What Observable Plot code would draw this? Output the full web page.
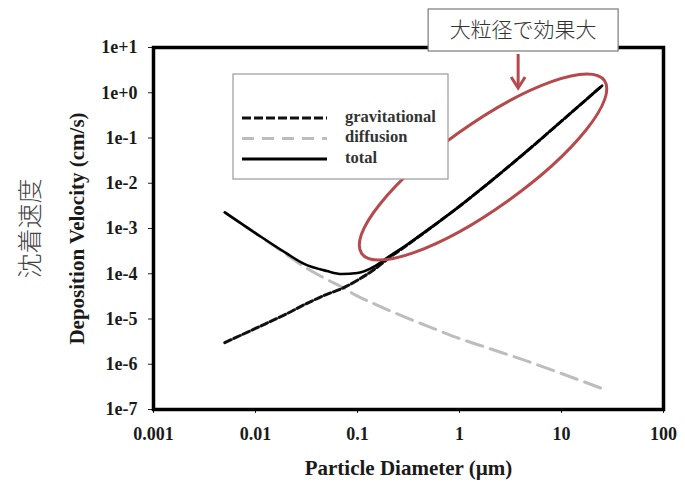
<!DOCTYPE html>
<html>
<head>
<meta charset="utf-8">
<script src="https://cdn.jsdelivr.net/npm/d3@7"></script>
<script src="https://cdn.jsdelivr.net/npm/@observablehq/plot@0.6"></script>
<style>
  html, body { margin: 0; padding: 0; background: #fff; }
  #chart { position: relative; width: 685px; height: 488px; }
</style>
</head>
<body>
<div id="chart"></div>
<script>
// Particle diameter (µm)
const diameters = [0.005, 0.01, 0.02, 0.03, 0.05, 0.07, 0.1, 0.15, 0.2, 0.3, 0.5, 1, 2, 5, 10, 25];
// Deposition velocity (cm/s)
const gravitational = [3.0e-6, 6.2e-6, 1.29e-5, 2.07e-5, 3.5e-5, 4.7e-5, 7.2e-5, 1.3e-4, 2.17e-4, 4.15e-4, 9.6e-4, 3.1e-3, 1.08e-2, 6.07e-2, 0.236, 1.43];
const diffusion     = [2.26e-3, 7.8e-4, 2.7e-4, 1.44e-4, 7.5e-5, 5.1e-5, 3.2e-5, 2.1e-5, 1.58e-5, 1.07e-5, 6.8e-6, 3.7e-6, 2.2e-6, 1.1e-6, 6.25e-7, 2.9e-7];
const total         = [2.27e-3, 7.9e-4, 2.85e-4, 1.65e-4, 1.15e-4, 9.9e-5, 1.04e-4, 1.5e-4, 2.33e-4, 4.26e-4, 9.7e-4, 3.11e-3, 1.08e-2, 6.07e-2, 0.236, 1.43];

const seriesNames = ["gravitational", "diffusion", "total"];
const xTicks = [0.001, 0.01, 0.1, 1, 10, 100];
const yTicks = [1e-7, 1e-6, 1e-5, 1e-4, 1e-3, 1e-2, 1e-1, 1e0, 1e1];
const xTickLabels = ["0.001", "0.01", "0.1", "1", "10", "100"];
const yTickLabels = ["1e-7", "1e-6", "1e-5", "1e-4", "1e-3", "1e-2", "1e-1", "1e+0", "1e+1"];

const xLabel = "Particle Diameter (\u00b5m)";
const yLabel = "Deposition Velocity (cm/s)";
const yLabelJa = "沈着速度";
const annotationText = "大粒径で効果大";
// annotation anchors in data space
const ellipseCenter = {d: 1.72, v: 0.0223};
const arrowTip = {d: 3.8, v: 1.24};

const styles = {
  gravitational: {stroke: "#111", dash: "7,3", legendDash: "9,3", width: 3},
  diffusion: {stroke: "#bdbdbd", dash: "17,8", legendDash: "12,8", width: 3},
  total: {stroke: "#000", dash: null, legendDash: null, width: 2.6}
};

const rows = (vals) => diameters.map((d, i) => ({d, v: vals[i]}));
const data = {gravitational: rows(gravitational), diffusion: rows(diffusion), total: rows(total)};

const serif = "'Liberation Serif', 'Times New Roman', serif";
const W = 685, H = 488;

const plot = Plot.plot({
  width: W, height: H,
  marginLeft: 153, marginRight: 22, marginTop: 47, marginBottom: 79,
  style: {fontFamily: serif, background: "#fff", color: "#1a1a1a"},
  x: {type: "log", domain: [0.001, 100]},
  y: {type: "log", domain: [1e-7, 10]},
  marks: [
    Plot.axisX(xTicks, {tickSize: 4, tickPadding: 14, tickFormat: (d) => xTickLabels[xTicks.indexOf(d)], fontSize: 18, fontWeight: "bold", label: null, stroke: "#222"}),
    Plot.axisY(yTicks, {tickSize: 5, tickPadding: 11, tickFormat: (d) => yTickLabels[yTicks.indexOf(d)], fontSize: 18, fontWeight: "bold", label: null, stroke: "#222"}),
    ...["diffusion", "gravitational", "total"].map(k =>
      Plot.line(data[k], {x: "d", y: "v", stroke: styles[k].stroke, strokeWidth: styles[k].width,
        strokeDasharray: styles[k].dash, curve: "monotone-x"})),
    Plot.frame({stroke: "#000", strokeWidth: 3.5}),
    Plot.text([xLabel], {frameAnchor: "bottom", dy: 65, fontSize: 21, fontWeight: "bold", fill: "#1a1a1a"}),
    Plot.text([yLabel], {frameAnchor: "left", textAnchor: "middle", dx: -76, rotate: -90, fontSize: 21, fontWeight: "bold", fill: "#1a1a1a"}),
    Plot.text([yLabelJa], {frameAnchor: "left", textAnchor: "middle", dx: -123, rotate: -90, fontSize: 25, fontFamily: "'Noto Sans CJK JP'", fontWeight: 300, fill: "#444"})
  ]
});

document.getElementById("chart").appendChild(plot);

const sx = plot.scale("x"), sy = plot.scale("y");
const svg = d3.select(plot);
const red = "#b5494b";

// Ellipse
const cx = sx.apply(ellipseCenter.d), cy = sy.apply(ellipseCenter.v);
svg.append("ellipse")
  .attr("cx", cx).attr("cy", cy).attr("rx", 149).attr("ry", 42)
  .attr("transform", `rotate(-35.5 ${cx} ${cy})`)
  .attr("fill", "none").attr("stroke", red).attr("stroke-width", 3);

// Annotation box
const ax = sx.apply(arrowTip.d), ay = sy.apply(arrowTip.v);
const boxW = 190, boxH = 42;
const bx = ax + 5 - boxW / 2, by = 9;
svg.append("rect").attr("x", bx).attr("y", by).attr("width", boxW).attr("height", boxH)
  .attr("fill", "#fff").attr("stroke", "#7a7a7a").attr("stroke-width", 1.2);
svg.append("text").attr("x", bx + boxW / 2).attr("y", by + boxH / 2 + 1)
  .attr("text-anchor", "middle").attr("dominant-baseline", "middle")
  .attr("font-family", "'Noto Sans CJK JP'").attr("font-weight", 300).attr("font-size", 21)
  .attr("fill", "#333").text(annotationText);

// Arrow
svg.append("line").attr("x1", ax).attr("y1", by + boxH + 3).attr("x2", ax).attr("y2", ay - 1)
  .attr("stroke", red).attr("stroke-width", 3);
svg.append("path").attr("d", `M${ax - 7},${ay - 11} L${ax},${ay} L${ax + 7},${ay - 11}`)
  .attr("fill", "none").attr("stroke", red).attr("stroke-width", 3).attr("stroke-linejoin", "miter");

// Legend
const lg = svg.append("g").attr("transform", "translate(233,74)");
lg.append("rect").attr("width", 215).attr("height", 105).attr("fill", "#fff")
  .attr("stroke", "#9a9a9a").attr("stroke-width", 1.2);
seriesNames.forEach((k, i) => {
  const y = 44 + i * 20.5;
  lg.append("line").attr("x1", 9).attr("x2", 94).attr("y1", y).attr("y2", y)
    .attr("stroke", styles[k].stroke).attr("stroke-width", 3.2)
    .attr("stroke-dasharray", styles[k].legendDash);
  lg.append("text").attr("x", 112).attr("y", y).attr("dominant-baseline", "middle")
    .attr("text-anchor", "start")
    .attr("font-family", serif).attr("font-weight", "bold").attr("font-size", 16.5)
    .attr("fill", "#333").text(k);
});
</script>
</body>
</html>
